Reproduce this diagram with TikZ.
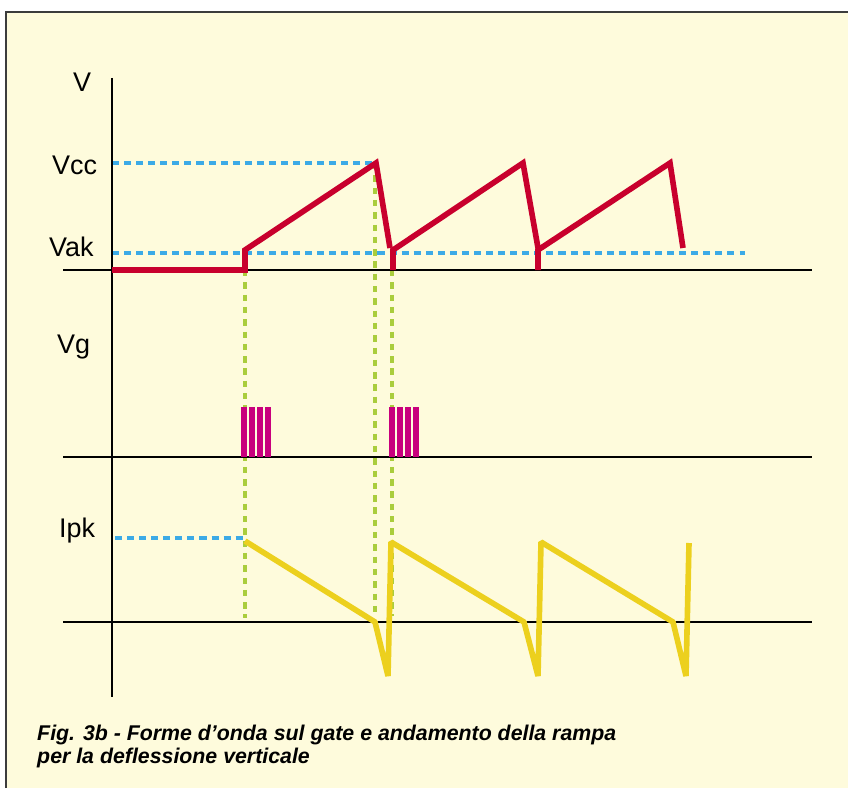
\documentclass[tikz,border=0pt]{standalone}
\usepackage{fontspec}
\setmainfont{Liberation Sans}
\usetikzlibrary{positioning}
\definecolor{rampCream}{RGB}{254,251,220}
\definecolor{rampFrame}{RGB}{60,60,60}
\definecolor{rampRed}{RGB}{200,0,45}
\definecolor{rampMagenta}{RGB}{200,0,125}
\definecolor{rampYellow}{RGB}{236,208,30}
\definecolor{rampBlue}{RGB}{60,170,230}
\definecolor{rampGreen}{RGB}{170,205,60}

\begin{document}
\begin{tikzpicture}[
  x=0.03cm,
  y=-0.03cm,
  axis/.style={line width=1.9pt,black},
  level/.style={line width=2.8pt,dash pattern=on 6pt off 4.3pt,rampBlue},
  marker/.style={line width=2.8pt,dash pattern=on 5.5pt off 5pt,rampGreen},
  anode/.style={line width=4.8pt,rampRed},
  gate/.style={line width=4.6pt,rampMagenta},
  current/.style={line width=4.8pt,line join=bevel,rampYellow},
  lbl/.style={anchor=base west,inner sep=0pt,font=\fontsize{23}{27}\selectfont},
  caption/.style={anchor=base west,inner sep=0pt,font=\fontsize{18.2}{22}\selectfont\bfseries\itshape}
]
  \useasboundingbox (0,0) rectangle (848,788);
  \fill[white] (0,0) rectangle (848,788);
  \fill[rampCream] (5,11) rectangle (848,788);
  \draw[line width=2pt,rampFrame] (6,788) -- (6,12) -- (848,12);

  % guide lines
  \draw[marker] (245,270) -- (245,618);
  \draw[marker] (375,163) -- (375,618);
  \draw[marker] (392,270) -- (392,616);
  \draw[level] (112,163) -- (375,163);
  \draw[level] (112,253) -- (745,253);
  \draw[level] (115,538) -- (243,538);

  % axes
  \draw[axis] (112,78) -- (112,697);
  \foreach \y in {270,457,622}
    \draw[axis] (63,\y) -- (812,\y);

  % anode voltage
  \draw[anode] (112,270) -- (245,270) -- (245,250) -- (376,163) -- (390,248);
  \draw[anode] (393,270) -- (393,250) -- (523,163) -- (538,248);
  \draw[anode] (538,270) -- (538,250) -- (670,163) -- (683,248);

  % gate pulses
  \foreach \x in {244,252,260,268,392,400,408,416}
    \draw[gate] (\x,407) -- (\x,457);

  % current ramp
  \draw[current] (245,541) -- (375,622) -- (388,676) -- (391,542)
    -- (524,622) -- (538,676) -- (541,542) -- (673,622) -- (686,676)
    -- (689,543);

  \node[lbl] (vLabel) at (73,92) {V};
  \node[lbl] (vccLabel) at (52,174) {Vcc};
  \node[lbl] (vakLabel) at (49,256) {Vak};
  \node[lbl] (vgLabel) at (57,353) {Vg};
  \node[lbl] (ipkLabel) at (59,537) {Ipk};

  \node[caption] (captionTop) at (37,740)
    {Fig. 3b - Forme d’onda sul gate e andamento della rampa};
  \node[caption] (captionBottom) at (37,763)
    {per la deflessione verticale};
\end{tikzpicture}
\end{document}
